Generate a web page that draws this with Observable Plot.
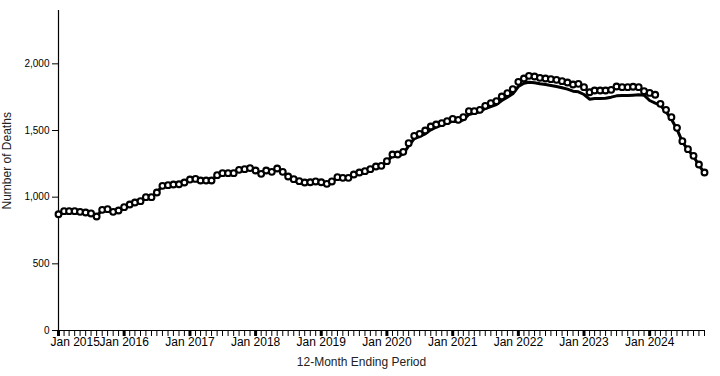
<!DOCTYPE html>
<html><head><meta charset="utf-8">
<script src="https://cdn.jsdelivr.net/npm/d3@7"></script>
<script src="https://cdn.jsdelivr.net/npm/@observablehq/plot@0.6"></script>
<style>body{margin:0;background:#fff} #chart svg{display:block}</style>
</head><body><div id="chart"></div>
<script>
// 12-month ending periods, Jan 2015 .. Nov 2024 (monthly)
const firstPeriod = "2015-01";
const predicted = [
  872, 895, 895, 895, 890, 885, 878, 855, 905, 910, 890, 900,
  925, 945, 960, 970, 1000, 1000, 1035, 1085, 1090, 1095, 1097, 1110,
  1132, 1137, 1125, 1125, 1125, 1165, 1180, 1180, 1180, 1205, 1210, 1218,
  1200, 1175, 1200, 1190, 1215, 1190, 1155, 1135, 1120, 1110, 1112, 1118,
  1112, 1100, 1118, 1150, 1145, 1145, 1170, 1185, 1195, 1210, 1230, 1235,
  1270, 1320, 1320, 1340, 1405, 1460, 1475, 1500, 1530, 1545, 1555, 1570,
  1587, 1580, 1600, 1645, 1645, 1655, 1685, 1705, 1720, 1755, 1780, 1810,
  1865, 1890, 1910, 1905, 1895, 1890, 1885, 1880, 1870, 1860, 1845, 1850,
  1825, 1787, 1800, 1800, 1800, 1805, 1830, 1825, 1825, 1828, 1825, 1795,
  1782, 1768, 1700, 1655, 1600, 1520, 1420, 1360, 1310, 1245, 1185
];
const reported = [
  872, 895, 895, 895, 890, 885, 878, 855, 905, 910, 890, 900,
  925, 945, 960, 970, 1000, 1000, 1035, 1085, 1090, 1095, 1097, 1110,
  1132, 1137, 1125, 1125, 1125, 1165, 1180, 1180, 1180, 1205, 1210, 1218,
  1200, 1175, 1200, 1190, 1215, 1190, 1155, 1135, 1120, 1110, 1112, 1118,
  1112, 1100, 1118, 1150, 1145, 1145, 1170, 1185, 1195, 1210, 1230, 1235,
  1268, 1310, 1305, 1325, 1385, 1440, 1455, 1475, 1505, 1525, 1540, 1555,
  1570, 1565, 1580, 1620, 1630, 1640, 1665, 1680, 1695, 1725, 1750, 1775,
  1830, 1855, 1862, 1858, 1850, 1845, 1838, 1830, 1820, 1810, 1795, 1790,
  1770, 1735, 1740, 1740, 1742, 1750, 1760, 1762, 1762, 1765, 1768, 1765,
  1725, 1705, 1690, 1640, 1585, 1510, 1415, 1355, 1305, 1240, 1180
];
const yTicks = [0, 500, 1000, 1500, 2000];
const xTickLabels = ["Jan 2015", "Jan 2016", "Jan 2017", "Jan 2018", "Jan 2019",
  "Jan 2020", "Jan 2021", "Jan 2022", "Jan 2023", "Jan 2024"];
const yTitle = "Number of Deaths";
const xTitle = "12-Month Ending Period";

const start = d3.utcParse("%Y-%m")(firstPeriod);
const months = predicted.map((_, i) => d3.utcMonth.offset(start, i));
const rows = months.map((m, i) => ({month: m, predicted: predicted[i], reported: reported[i]}));
const janTicks = xTickLabels.map(s => d3.utcParse("%b %Y")(s));

const font = "'Liberation Sans', Arial, sans-serif";
const plot = Plot.plot({
  width: 720, height: 376,
  marginLeft: 58, marginRight: 16, marginTop: 10, marginBottom: 46,
  style: {fontFamily: font, fontSize: "10px", color: "#000", background: "#fff"},
  x: {type: "utc", domain: [months[0], months[months.length - 1]]},
  y: {domain: [0, 2400]},
  marks: [
    Plot.axisY({ticks: yTicks, tickSize: 6, tickPadding: 3, tickFormat: d3.format(","), label: null, fontSize: 10}),
    Plot.axisX({ticks: months, tickSize: 6, tickFormat: () => "", label: null, strokeWidth: 1}),
    Plot.axisX({ticks: janTicks, tickSize: 6, tickFormat: () => "", label: null, strokeWidth: 3}),
    Plot.text(janTicks.slice(1), {x: d => d, text: (d, i) => xTickLabels[i + 1], frameAnchor: "bottom", lineAnchor: "top", dy: 7, fontSize: 12, fill: "#000"}),
    Plot.text(janTicks.slice(0, 1), {x: d => d, text: () => xTickLabels[0], frameAnchor: "bottom", lineAnchor: "top", textAnchor: "start", dx: -8, dy: 7, fontSize: 12, fill: "#000"}),
    Plot.ruleX([months[0]], {stroke: "#000", strokeWidth: 1.2}),
    Plot.ruleY([0], {stroke: "#000", strokeWidth: 1}),
    Plot.line(rows, {x: "month", y: "reported", stroke: "#000", strokeWidth: 3}),
    Plot.dot(rows, {x: "month", y: "predicted", r: 2.9, fill: "#fff", stroke: "#000", strokeWidth: 2.1}),
    Plot.text([yTitle], {frameAnchor: "left", rotate: -90, dx: -51, dy: 39, fontSize: 12, fill: "#222"}),
    Plot.text([xTitle], {frameAnchor: "bottom", dx: -20, dy: 35, fontSize: 12, fill: "#222"})
  ]
});
document.getElementById("chart").appendChild(plot);
</script>
</body></html>
